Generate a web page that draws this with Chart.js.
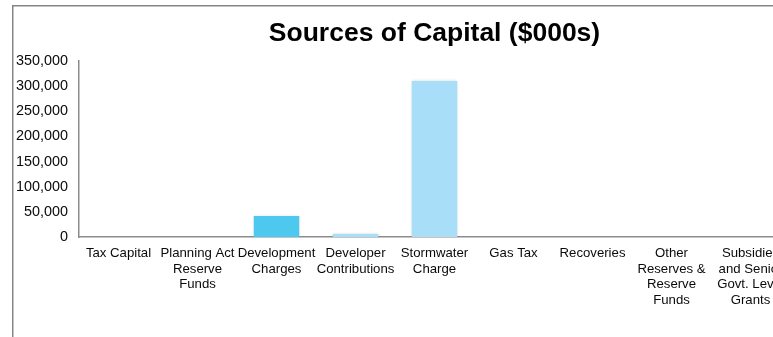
<!DOCTYPE html>
<html>
<head>
<meta charset="utf-8">
<script src="https://cdn.jsdelivr.net/npm/chart.js@4.4.1/dist/chart.umd.min.js"></script>
<style>
  html, body { margin: 0; padding: 0; background: #fff; overflow: hidden; width: 773px; height: 337px; }
  #wrap { position: absolute; left: 0; top: 0; width: 820px; height: 337px; }
</style>
</head>
<body>
<div id="wrap"><canvas id="c" width="820" height="337"></canvas></div>
<script>
const titleText = "Sources of Capital ($000s)";
const categories = [
  ["Tax Capital"],
  ["Planning Act", "Reserve", "Funds"],
  ["Development", "Charges"],
  ["Developer", "Contributions"],
  ["Stormwater", "Charge"],
  ["Gas Tax"],
  ["Recoveries"],
  ["Other", "Reserves &", "Reserve", "Funds"],
  ["Subsidies", "and Senior", "Govt. Level", "Grants"]
];
const capitalValues = [0, 0, 42000, 6000, 310000, 0, 0, 0, 0];
const barColors = ["#A8DEF8", "#A8DEF8", "#4DC8EE", "#A8DEF8", "#A8DEF8", "#A8DEF8", "#A8DEF8", "#A8DEF8", "#A8DEF8"];
const yTickMin = 0, yTickMax = 350000, yTickStep = 50000;

const FONT = "'Liberation Sans', Arial, sans-serif";

const framePlugin = {
  id: 'frame',
  beforeDraw(chart) {
    const ctx = chart.ctx;
    ctx.save();
    ctx.fillStyle = '#fff';
    ctx.fillRect(0, 0, chart.width, chart.height);
    ctx.strokeStyle = '#858585';
    ctx.lineWidth = 1.5;
    ctx.beginPath();
    ctx.moveTo(12.75, chart.height + 2);
    ctx.lineTo(12.75, 5.75);
    ctx.lineTo(chart.width + 2, 5.75);
    ctx.stroke();
    ctx.restore();
  },
  beforeDatasetsDraw(chart) {
    const ctx = chart.ctx;
    ctx.save();
    ctx.shadowColor = 'rgba(0,0,0,0.18)';
    ctx.shadowBlur = 3;
    ctx.shadowOffsetX = 0;
    ctx.shadowOffsetY = 0;
  },
  afterDatasetsDraw(chart) {
    chart.ctx.restore();
  }
};

new Chart(document.getElementById('c'), {
  type: 'bar',
  data: {
    labels: categories,
    datasets: [{
      data: capitalValues,
      backgroundColor: barColors,
      borderWidth: 0,
      barPercentage: 0.575,
      categoryPercentage: 1.0
    }]
  },
  options: {
    responsive: false,
    animation: false,
    devicePixelRatio: 1,
    layout: { padding: { left: 12, right: 30, top: 0, bottom: 0 } },
    plugins: {
      legend: { display: false },
      tooltip: { enabled: false },
      title: {
        display: true,
        text: titleText,
        fullSize: false,
        color: '#000',
        font: { family: FONT, size: 26.5, weight: 'bold' },
        padding: { top: 17.5, bottom: 11.7 }
      }
    },
    scales: {
      x: {
        grid: { display: false, drawTicks: false },
        border: { display: true, color: '#8c8c8c', width: 1.5 },
        ticks: {
          color: '#0a0a0a',
          font: { family: FONT, size: 13.2, lineHeight: 1.17 },
          padding: 9,
          autoSkip: false,
          maxRotation: 0,
          minRotation: 0
        },
        afterFit(scale) { scale.height = 100; }
      },
      y: {
        min: yTickMin,
        max: yTickMax,
        grid: { display: false, drawTicks: false },
        border: { display: true, color: '#8c8c8c', width: 1.5 },
        ticks: {
          stepSize: yTickStep,
          color: '#0a0a0a',
          font: { family: FONT, size: 14.4 },
          padding: 11,
          callback: v => v.toLocaleString('en-US')
        },
        afterFit(scale) { scale.width = 67; }
      }
    }
  },
  plugins: [framePlugin]
});
</script>
</body>
</html>
